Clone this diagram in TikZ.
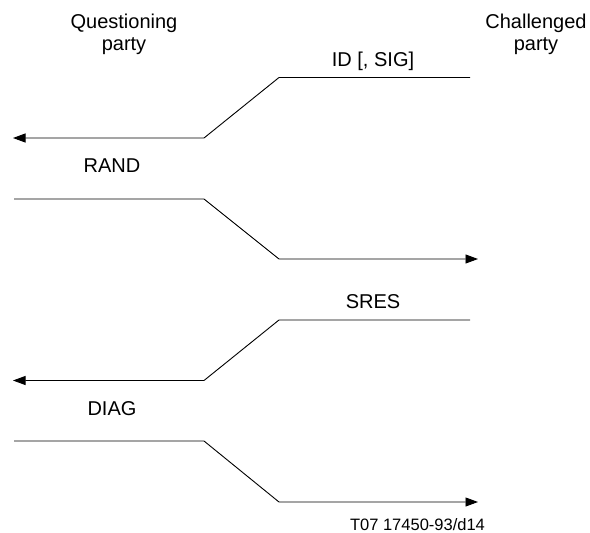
\documentclass[tikz,border=0pt]{standalone}
\usepackage{fontspec}
\setmainfont{Liberation Sans}
\usetikzlibrary{arrows.meta}
\begin{document}
\begin{tikzpicture}[x=1pt,y=-1pt,
  lbl/.style={anchor=base,inner sep=0pt,font=\fontsize{20}{22}\selectfont},
  sig/.style={line width=0.9pt,line join=miter},
  sigarrow/.style={sig,-{Triangle[length=12.5pt,width=9pt]}},
  note/.style={anchor=base,inner sep=0pt,font=\fontsize{16.5}{18}\selectfont}]
\useasboundingbox (0,0) rectangle (590,533);
% party labels
\node[lbl] (q1) at (124,28) {Questioning};
\node[lbl] (q2) at (124,50) {party};
\node[lbl] (c1) at (536,28) {Challenged};
\node[lbl] (c2) at (536,50) {party};
% message 1: ID [, SIG]
\coordinate (a1) at (470,77.5);
\coordinate (a2) at (279,77.5);
\coordinate (a3) at (204,138);
\coordinate (a4) at (13,138);
\draw[sigarrow] (a1) -- (a2) -- (a3) -- (a4);
\node[lbl] (l1) at (373,66) {ID [, SIG]};
% message 2: RAND
\coordinate (b1) at (14,199);
\coordinate (b2) at (204,199);
\coordinate (b3) at (279,259);
\coordinate (b4) at (478,259);
\draw[sigarrow] (b1) -- (b2) -- (b3) -- (b4);
\node[lbl] (l2) at (112,172.5) {RAND};
% message 3: SRES
\coordinate (s1) at (470,320);
\coordinate (s2) at (279,320);
\coordinate (s3) at (204,380.5);
\coordinate (s4) at (13,380.5);
\draw[sigarrow] (s1) -- (s2) -- (s3) -- (s4);
\node[lbl] (l3) at (373,308) {SRES};
% message 4: DIAG
\coordinate (d1) at (14,441);
\coordinate (d2) at (204,441);
\coordinate (d3) at (279,502);
\coordinate (d4) at (478,502);
\draw[sigarrow] (d1) -- (d2) -- (d3) -- (d4);
\node[lbl] (l4) at (112,415) {DIAG};
% figure reference
\node[note] (ref) at (417.5,530) {T07 17450-93/d14};
\end{tikzpicture}
\end{document}
